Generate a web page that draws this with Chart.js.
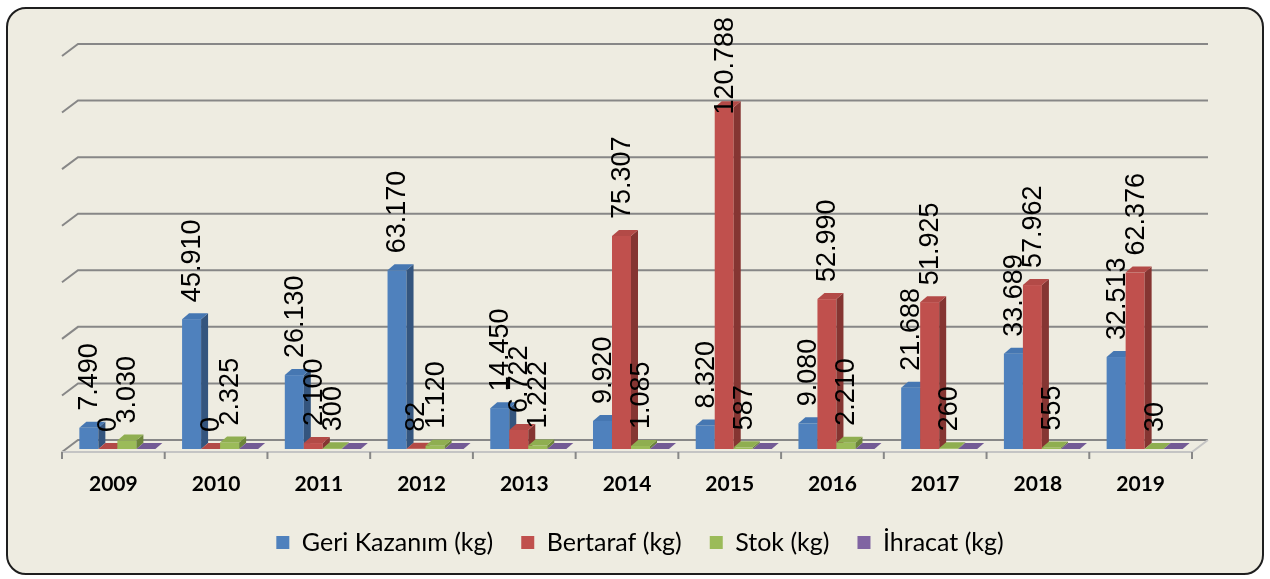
<!DOCTYPE html>
<html>
<head>
<meta charset="utf-8">
<script src="https://cdn.jsdelivr.net/npm/chart.js@4.4.0/dist/chart.umd.min.js"></script>
<style>
  html, body { margin: 0; padding: 0; background: #ffffff; }
  #frame {
    position: absolute; left: 6px; top: 7px;
    width: 1254px; height: 564px;
    border: 2px solid #1e1e1e; border-radius: 20px;
    background: #eeece1; overflow: hidden;
  }
  #wrap { position: relative; width: 1254px; height: 564px; }
</style>
</head>
<body>
<div id="frame"><div id="wrap"><canvas id="atikChart"></canvas></div></div>
<script>
const years = ['2009', '2010', '2011', '2012', '2013', '2014', '2015', '2016', '2017', '2018', '2019'];
const geriKazanim = [7490, 45910, 26130, 63170, 14450, 9920, 8320, 9080, 21688, 33689, 32513];
const bertaraf = [0, 0, 2100, 82, 6722, 75307, 120788, 52990, 51925, 57962, 62376];
const stok = [3030, 2325, 300, 1120, 1222, 1085, 587, 2210, 260, 555, 30];
const ihracat = [0, 0, 0, 0, 0, 0, 0, 0, 0, 0, 0];
const yMax = 140000;
const yStep = 20000;

const FONT = 'Lato, "Open Sans", sans-serif';
const LABEL_FONT = '"Liberation Sans Narrow", "Liberation Sans", sans-serif';

// front / side / top colours
const faces = [
  ['#4f81bd', '#34557e', '#4677b2'],
  ['#c0504d', '#853532', '#b34a47'],
  ['#9bbb59', '#6c853b', '#8fae50'],
  ['#8064a2', '#5a4674', '#735a95']
];

function fmt(v) {
  return String(v).replace(/\B(?=(\d{3})+(?!\d))/g, '.');
}

const DX = 7, DY = 6;       // bar depth
const GX = 16, GY = 9;      // back wall offset
const SHIFT = 4;            // front faces sit a little right of the category centre

const bar3d = {
  id: 'bar3d',
  beforeDatasetsDraw(chart) {
    const { ctx, chartArea: a, scales: { y } } = chart;
    ctx.save();
    ctx.strokeStyle = '#878787';
    ctx.lineWidth = 2;
    y.ticks.forEach(t => {
      const py = y.getPixelForValue(t.value);
      ctx.beginPath();
      ctx.moveTo(a.left, py + 3);
      ctx.lineTo(a.left + GX, py - GY);
      ctx.lineTo(a.right + GX, py - GY);
      ctx.stroke();
    });
    // floor front edge and ticks
    const p0 = y.getPixelForValue(0);
    ctx.strokeStyle = '#c4c4c4';
    ctx.beginPath();
    ctx.moveTo(a.left, p0 + 3);
    ctx.lineTo(a.right, p0 + 3);
    ctx.lineTo(a.right + GX, p0 - GY);
    ctx.stroke();
    ctx.strokeStyle = '#878787';
    const cw = (a.right - a.left) / years.length;
    for (let i = 0; i <= years.length; i++) {
      const bx = a.left + i * cw;
      ctx.beginPath();
      ctx.moveTo(bx, p0 + 3);
      ctx.lineTo(bx, p0 + 10);
      ctx.stroke();
    }
    ctx.restore();
  },
  // the flat bars are replaced by the 3D ones below
  beforeDatasetDraw() {
    return false;
  },
  afterDatasetsDraw(chart) {
    const { ctx } = chart;
    const n = chart.data.labels.length;
    ctx.save();
    for (let i = 0; i < n; i++) {
      chart.data.datasets.forEach((ds, d) => {
        const el = chart.getDatasetMeta(d).data[i];
        const l = el.x - el.width / 2 + SHIFT, r = el.x + el.width / 2 + SHIFT;
        const t = Math.min(el.y, el.base), b = el.base;
        const c = faces[d];
        ctx.fillStyle = c[0];
        ctx.fillRect(l, t, r - l, b - t);
        ctx.fillStyle = c[1];
        ctx.beginPath();
        ctx.moveTo(r, t); ctx.lineTo(r + DX, t - DY);
        ctx.lineTo(r + DX, b - DY); ctx.lineTo(r, b);
        ctx.closePath(); ctx.fill();
        ctx.fillStyle = c[2];
        ctx.beginPath();
        ctx.moveTo(l, t); ctx.lineTo(l + DX, t - DY);
        ctx.lineTo(r + DX, t - DY); ctx.lineTo(r, t);
        ctx.closePath(); ctx.fill();
      });
    }
    // value labels (not for İhracat)
    ctx.fillStyle = '#000';
    ctx.font = '27px ' + LABEL_FONT;
    ctx.textAlign = 'left';
    ctx.textBaseline = 'middle';
    for (let d = 0; d < 3; d++) {
      const meta = chart.getDatasetMeta(d);
      meta.data.forEach((el, i) => {
        const txt = fmt(chart.data.datasets[d].data[i]);
        const w = ctx.measureText(txt).width;
        // keep the label inside the frame, as the original does
        const start = Math.max(el.y - 17, 8 + w);
        ctx.save();
        ctx.translate(el.x + SHIFT + 1, start);
        ctx.rotate(-Math.PI / 2);
        ctx.fillText(txt, 0, 0);
        ctx.restore();
      });
    }
    ctx.restore();
  }
};

new Chart(document.getElementById('atikChart').getContext('2d'), {
  type: 'bar',
  data: {
    labels: years,
    datasets: [
      { label: 'Geri Kazanım (kg)', data: geriKazanim, backgroundColor: faces[0][0] },
      { label: 'Bertaraf (kg)', data: bertaraf, backgroundColor: faces[1][0] },
      { label: 'Stok (kg)', data: stok, backgroundColor: faces[2][0] },
      { label: 'İhracat (kg)', data: ihracat, backgroundColor: faces[3][0] }
    ]
  },
  options: {
    responsive: true,
    maintainAspectRatio: false,
    animation: false,
    datasets: { bar: { categoryPercentage: 0.74, barPercentage: 1.0, borderWidth: 0 } },
    layout: { padding: { left: 54, right: 44, top: 44, bottom: 8 } },
    plugins: {
      tooltip: { enabled: false },
      legend: {
        position: 'bottom',
        labels: {
          boxWidth: 13, boxHeight: 13, padding: 28, color: '#000',
          font: { family: FONT, size: 25 }
        }
      }
    },
    scales: {
      x: {
        grid: { display: false },
        border: { display: false },
        ticks: { color: '#000', padding: 15, font: { family: FONT, size: 21, weight: 'bold' } },
        afterFit(scale) { scale.height = 53; }
      },
      y: {
        display: true,
        position: 'right',
        min: 0, max: yMax,
        ticks: { display: false, stepSize: yStep },
        grid: { display: false },
        border: { display: false },
        afterFit(scale) { scale.width = 26; }
      }
    }
  },
  plugins: [bar3d]
});
</script>
</body>
</html>
